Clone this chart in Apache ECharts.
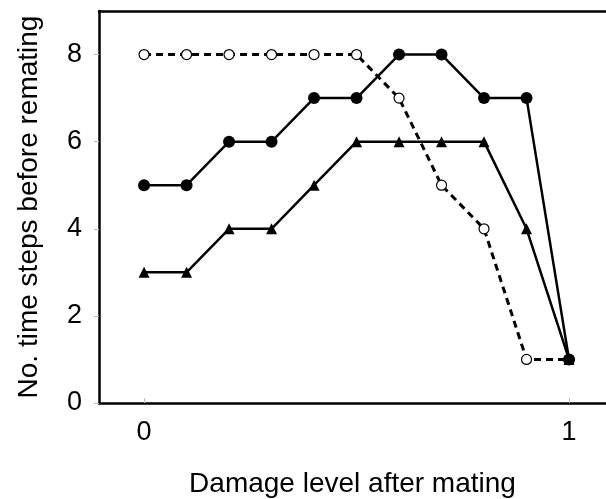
<!DOCTYPE html>
<html><head><meta charset="utf-8">
<script src="https://cdn.jsdelivr.net/npm/echarts@6/dist/echarts.min.js"></script>
<style>html,body{margin:0;padding:0;background:#fff}#c{width:606px;height:499px}</style>
</head><body><div id="c"></div>
<script>
const damage = [0, 0.1, 0.2, 0.3, 0.4, 0.5, 0.6, 0.7, 0.8, 0.9, 1.0];
const filledCircles = [5, 5, 6, 6, 7, 7, 8, 8, 7, 7, 1];
const triangles = [3, 3, 4, 4, 5, 6, 6, 6, 6, 4, 1];
const openCircles = [8, 8, 8, 8, 8, 8, 7, 5, 4, 1, 1];
const xTicks = [0, 1];
const yTicks = [0, 2, 4, 6, 8];
const xTitle = 'Damage level after mating';
const yTitle = 'No. time steps before remating';

const pair = arr => damage.map((d, i) => [d, arr[i]]);
const font = 'Liberation Sans, Arial, sans-serif';
const chart = echarts.init(document.getElementById('c'));
chart.setOption({
  animation: false,
  grid: {left: 99, top: 11, right: 0, bottom: 96, containLabel: false, outerBoundsMode: 'none'},
  xAxis: [{
    type: 'value', min: -0.106, max: 1.087, position: 'bottom',
    axisLine: {onZero: false, lineStyle: {color: '#000', width: 2.5}},
    axisTick: {show: true, inside: true, length: 5, customValues: xTicks, lineStyle: {color: '#bbb', width: 1}},
    axisLabel: {customValues: xTicks, color: '#000', fontSize: 27, fontFamily: font, margin: 16},
    splitLine: {show: false},
    name: xTitle, nameLocation: 'middle', nameGap: 67,
    nameTextStyle: {color: '#000', fontSize: 28, fontFamily: font}
  }, {
    type: 'value', min: -0.106, max: 1.087, position: 'top',
    axisLine: {show: true, onZero: false, lineStyle: {color: '#000', width: 2.5}},
    axisTick: {show: false}, axisLabel: {show: false}, splitLine: {show: false}
  }],
  yAxis: {
    type: 'value', min: 0, max: 9,
    axisLine: {show: true, onZero: false, lineStyle: {color: '#000', width: 2.5}},
    axisTick: {show: true, length: 5, customValues: yTicks, lineStyle: {color: '#bbb', width: 1}},
    axisLabel: {customValues: yTicks, color: '#000', fontSize: 27, fontFamily: font, margin: 17},
    splitLine: {show: false},
    name: yTitle, nameLocation: 'middle', nameGap: 56, nameRotate: 90,
    nameTextStyle: {color: '#000', fontSize: 28, fontFamily: font}
  },
  series: [{
    type: 'line', data: pair(openCircles), symbol: 'circle', symbolSize: 10,
    lineStyle: {color: '#000', width: 3, type: [7, 5]},
    itemStyle: {color: '#fff', borderColor: '#000', borderWidth: 1.2}, z: 2
  }, {
    type: 'line', data: pair(triangles), symbol: 'triangle', symbolSize: 11,
    lineStyle: {color: '#000', width: 2.5},
    itemStyle: {color: '#000', borderWidth: 0}, z: 3
  }, {
    type: 'line', data: pair(filledCircles), symbol: 'circle', symbolSize: 12,
    lineStyle: {color: '#000', width: 2.5},
    itemStyle: {color: '#000', borderWidth: 0}, z: 4
  }]
});
</script></body></html>
